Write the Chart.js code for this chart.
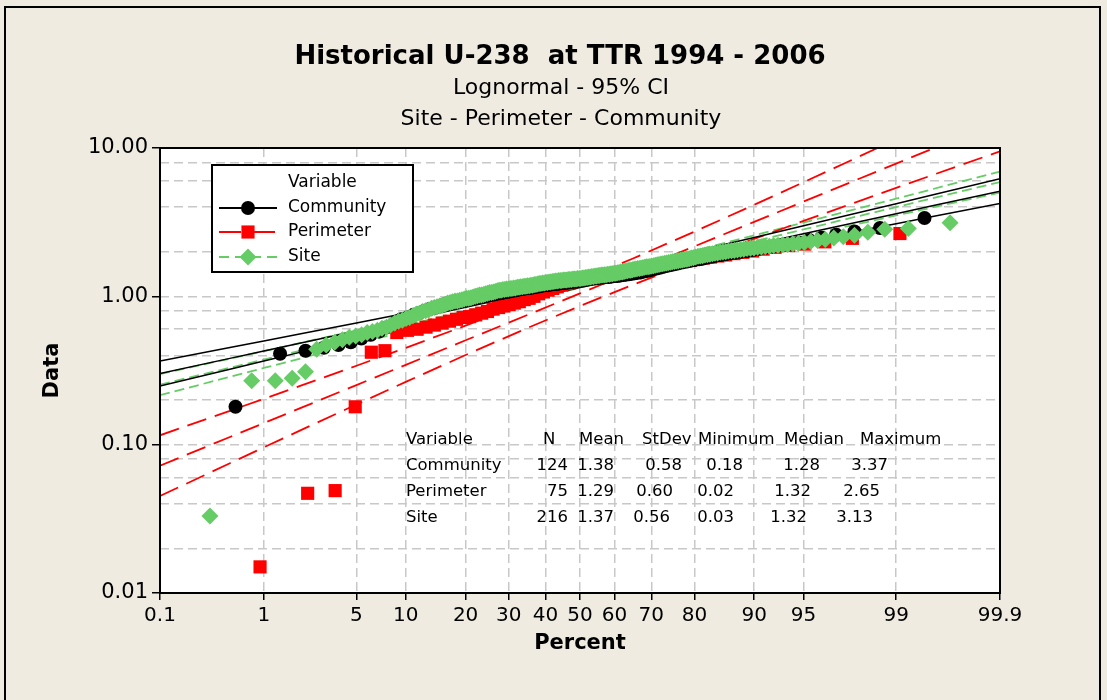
<!DOCTYPE html>
<html>
<head>
<meta charset="utf-8">
<title>Historical U-238 at TTR 1994 - 2006</title>
<script src="https://cdn.jsdelivr.net/npm/chart.js@4.4.1/dist/chart.umd.min.js"></script>
<style>
  html, body { margin: 0; padding: 0; background: #EFEBE1; }
  #wrap { position: relative; width: 1107px; height: 700px; overflow: hidden; }
  #frame { position: absolute; left: 4px; top: 6px; width: 1097px; height: 720px; border: 2px solid #000; box-sizing: border-box; }
  #chart { position: absolute; left: 0; top: 0; }
</style>
</head>
<body>
<div id="wrap">
  <div id="frame"></div>
  <canvas id="chart" width="1107" height="700"></canvas>
</div>
<script>
const FONT = '"DejaVu Sans", Verdana, sans-serif';

// ---- data ----
const titleText = 'Historical U-238  at TTR 1994 - 2006';
const subtitleLines = ['Lognormal - 95% CI', 'Site - Perimeter - Community'];

const tickPercents = [0.1, 1, 5, 10, 20, 30, 40, 50, 60, 70, 80, 90, 95, 99, 99.9];
const yTickValues = [0.01, 0.02, 0.04, 0.06, 0.08, 0.1, 0.2, 0.4, 0.6, 0.8, 1, 2, 4, 6, 8, 10];
const yMajorTicks = [0.01, 0.1, 1, 10];

const communityValues = [
  0.18, 0.41, 0.43, 0.45,
  0.47, 0.49, 0.52, 0.55,
  0.58, 0.62, 0.66, 0.70,
  0.72, 0.75, 0.77, 0.80,
  0.82, 0.84, 0.86, 0.88, 0.90,
  0.91, 0.92, 0.93, 0.94, 0.95, 0.97, 0.98,
  0.99, 1.00, 1.01, 1.02, 1.03, 1.04, 1.05,
  1.06, 1.07, 1.08, 1.09, 1.10, 1.11, 1.12, 1.13, 1.14, 1.14, 1.15, 1.16, 1.17,
  1.18, 1.19, 1.19, 1.20, 1.21, 1.21, 1.22, 1.23, 1.23, 1.24, 1.25, 1.26, 1.26, 1.27, 1.29,
  1.30, 1.30, 1.31, 1.32, 1.32, 1.33, 1.34, 1.34, 1.35, 1.35, 1.36, 1.37, 1.37, 1.38,
  1.39, 1.40, 1.41, 1.42, 1.43, 1.44, 1.45, 1.47, 1.48, 1.50,
  1.52, 1.54, 1.56, 1.58, 1.60, 1.62, 1.64, 1.66, 1.68, 1.70, 1.72, 1.74, 1.76, 1.78,
  1.80, 1.83, 1.85, 1.88, 1.90, 1.92, 1.95, 1.97, 2.00, 2.02, 2.05,
  2.09, 2.13, 2.17, 2.21, 2.25, 2.30,
  2.40, 2.48, 2.60, 2.74, 2.89, 3.37
];

const perimeterValues = [
  0.015, 0.047, 0.049, 0.18, 0.42, 0.43, 0.57,
  0.59, 0.60, 0.62, 0.64, 0.66, 0.68,
  0.70, 0.72, 0.73, 0.75,
  0.77, 0.79, 0.82, 0.84,
  0.86, 0.88, 0.90, 0.92, 0.95, 0.97, 1.00, 1.04,
  1.07, 1.10, 1.13, 1.16, 1.19, 1.22, 1.25, 1.29, 1.32,
  1.33, 1.34, 1.36, 1.37, 1.39, 1.40, 1.42, 1.43, 1.45,
  1.47, 1.49, 1.51, 1.53, 1.56, 1.58,
  1.60, 1.63, 1.65, 1.68, 1.70, 1.73, 1.75, 1.78,
  1.81, 1.84, 1.87, 1.90, 1.94, 1.98, 2.02,
  2.08, 2.14, 2.20, 2.25, 2.33, 2.46, 2.65
];

const siteValues = [
  0.033, 0.27, 0.27, 0.28, 0.31,
  0.44, 0.47, 0.49, 0.51, 0.53,
  0.54, 0.55, 0.57, 0.58,
  0.59, 0.61, 0.62, 0.64, 0.66, 0.68,
  0.69, 0.71, 0.72, 0.74, 0.76, 0.77, 0.79,
  0.80, 0.81, 0.83, 0.84, 0.85, 0.86, 0.87, 0.88, 0.90, 0.91,
  0.92, 0.93, 0.93, 0.94, 0.95, 0.96, 0.97, 0.97, 0.98, 0.99, 1.00,
  1.01, 1.02, 1.02, 1.03, 1.04, 1.05, 1.06, 1.06, 1.07, 1.08, 1.09, 1.10,
  1.10, 1.11, 1.11, 1.12, 1.12, 1.13, 1.13, 1.14, 1.14, 1.15, 1.15, 1.16, 1.16, 1.17, 1.17, 1.18, 1.18, 1.19, 1.19, 1.20, 1.20, 1.21, 1.22,
  1.22, 1.23, 1.23, 1.24, 1.24, 1.25, 1.25, 1.26, 1.26, 1.27, 1.27, 1.28, 1.28, 1.28, 1.29, 1.29, 1.29, 1.30, 1.30, 1.30, 1.31, 1.31, 1.31, 1.32, 1.32, 1.32,
  1.33, 1.33, 1.34, 1.34, 1.35, 1.35, 1.36, 1.36, 1.37, 1.37, 1.38, 1.38, 1.39, 1.39, 1.40, 1.40, 1.41, 1.41, 1.42, 1.42, 1.43, 1.43, 1.44, 1.45,
  1.46, 1.46, 1.47, 1.48, 1.49, 1.50, 1.50, 1.51, 1.52, 1.53, 1.54, 1.54, 1.55, 1.56, 1.57, 1.58, 1.58, 1.59,
  1.60, 1.61, 1.62, 1.63, 1.64, 1.65, 1.66, 1.67, 1.68, 1.69, 1.70, 1.71, 1.72, 1.73, 1.74, 1.75, 1.76, 1.77, 1.78, 1.79, 1.81, 1.82, 1.84, 1.86,
  1.87, 1.88, 1.90, 1.91, 1.92, 1.94, 1.95, 1.96, 1.98, 1.99, 2.00, 2.02, 2.03, 2.04, 2.05, 2.07, 2.08, 2.10, 2.11,
  2.12, 2.14, 2.15, 2.17, 2.18, 2.20, 2.21, 2.23, 2.24, 2.26, 2.28,
  2.31, 2.34, 2.38, 2.42, 2.47,
  2.52, 2.58, 2.70, 2.83, 2.87, 3.13
];

// fitted lines and 95% confidence bands, read at these percents
const ciPercents = [0.1, 0.5, 1, 2, 5, 10, 20, 35, 50, 65, 80, 90, 95, 98, 99, 99.5, 99.9];

const communityFit   = [0.3017, 0.3818, 0.4280, 0.4851, 0.5848, 0.6908, 0.8449, 1.042, 1.243, 1.483, 1.828, 2.236, 2.641, 3.185, 3.608, 4.046, 5.121];
const communityUpper = [0.3662, 0.4514, 0.4998, 0.5590, 0.6617, 0.7700, 0.9280, 1.133, 1.347, 1.612, 2.008, 2.494, 2.989, 3.671, 4.214, 4.783, 6.216];
const communityLower = [0.2485, 0.3229, 0.3665, 0.4207, 0.5168, 0.6194, 0.7692, 0.958, 1.147, 1.364, 1.665, 2.005, 2.334, 2.764, 3.090, 3.422, 4.219];

const perimeterFit   = [0.07218, 0.1126, 0.1398, 0.1770, 0.2522, 0.3453, 0.5055, 0.7506, 1.047, 1.462, 2.172, 3.178, 4.352, 6.201, 7.849, 9.745, 15.21];
const perimeterUpper = [0.1156, 0.1692, 0.2039, 0.2500, 0.3405, 0.4498, 0.6348, 0.9196, 1.274, 1.792, 2.729, 4.141, 5.878, 8.759, 11.44, 14.64, 24.35];
const perimeterLower = [0.04507, 0.07495, 0.0959, 0.1253, 0.1867, 0.2651, 0.4022, 0.6126, 0.8611, 1.193, 1.729, 2.440, 3.222, 4.390, 5.383, 6.486, 9.495];

const siteFit   = [0.2541, 0.3299, 0.3747, 0.4303, 0.5300, 0.6375, 0.7973, 1.006, 1.224, 1.489, 1.878, 2.350, 2.827, 3.480, 3.998, 4.539, 5.897];
const siteUpper = [0.2990, 0.3800, 0.4270, 0.4852, 0.5882, 0.6986, 0.8627, 1.079, 1.310, 1.597, 2.033, 2.575, 3.137, 3.924, 4.555, 5.228, 6.942];
const siteLower = [0.2158, 0.2865, 0.3288, 0.3818, 0.4775, 0.5816, 0.7366, 0.9376, 1.144, 1.387, 1.736, 2.144, 2.546, 3.087, 3.508, 3.942, 5.009];

const statsHeader = ['Variable', 'N', 'Mean', 'StDev', 'Minimum', 'Median', 'Maximum'];
const statsRows = [
  ['Community', '124', '1.38', '0.58', '0.18', '1.28', '3.37'],
  ['Perimeter', '75', '1.29', '0.60', '0.02', '1.32', '2.65'],
  ['Site', '216', '1.37', '0.56', '0.03', '1.32', '3.13']
];

// ---- helpers ----
// inverse normal cdf (percent in, z out) for the probability axis
function probit(pct) {
  const p = pct / 100;
  const a = [-39.69683028665376, 220.9460984245205, -275.9285104469687, 138.3577518672690, -30.66479806614716, 2.506628277459239];
  const b = [-54.47609879822406, 161.5858368580409, -155.6989798598866, 66.80131188771972, -13.28068155288572];
  const c = [-0.007784894002430293, -0.3223964580411365, -2.400758277161838, -2.549732539343734, 4.374664141464968, 2.938163982698783];
  const d = [0.007784695709041462, 0.3224671290700398, 2.445134137142996, 3.754408661907416];
  const lo = 0.02425;
  let q, r;
  if (p < lo) {
    q = Math.sqrt(-2 * Math.log(p));
    return (((((c[0]*q+c[1])*q+c[2])*q+c[3])*q+c[4])*q+c[5]) / ((((d[0]*q+d[1])*q+d[2])*q+d[3])*q+1);
  }
  if (p <= 1 - lo) {
    q = p - 0.5; r = q * q;
    return (((((a[0]*r+a[1])*r+a[2])*r+a[3])*r+a[4])*r+a[5])*q / (((((b[0]*r+b[1])*r+b[2])*r+b[3])*r+b[4])*r+1);
  }
  q = Math.sqrt(-2 * Math.log(1 - p));
  return -(((((c[0]*q+c[1])*q+c[2])*q+c[3])*q+c[4])*q+c[5]) / ((((d[0]*q+d[1])*q+d[2])*q+d[3])*q+1);
}

// median-rank plotting positions
const toPoints = vals => vals.map((v, i) => ({ x: probit(100 * (i + 0.7) / (vals.length + 0.4)), y: v }));
const toCurve = vals => ciPercents.map((p, i) => ({ x: probit(p), y: vals[i] }));

const BLACK = '#000000', RED = '#FF0000', GREEN = '#66CC66';
const RED_DASH = [20, 9], GREEN_DASH = [10, 5];

function lineSet(vals, color, dash, width) {
  return {
    data: toCurve(vals), showLine: true, pointRadius: 0, borderColor: color,
    borderWidth: width, borderDash: dash, tension: 0, order: 10
  };
}

const datasets = [
  { label: 'Site', data: toPoints(siteValues), pointStyle: 'rectRot', pointRadius: 8.5,
    backgroundColor: GREEN, borderWidth: 0, order: 1 },
  { label: 'Community', data: toPoints(communityValues), pointStyle: 'circle', pointRadius: 7,
    backgroundColor: BLACK, borderWidth: 0, order: 2 },
  { label: 'Perimeter', data: toPoints(perimeterValues), pointStyle: 'rect', pointRadius: 9.3,
    backgroundColor: RED, borderWidth: 0, order: 3 },

  lineSet(communityFit, BLACK, [], 1.5),
  lineSet(communityUpper, BLACK, [], 1.5),
  lineSet(communityLower, BLACK, [], 1.5),
  lineSet(perimeterFit, RED, RED_DASH, 1.8),
  lineSet(perimeterUpper, RED, RED_DASH, 1.8),
  lineSet(perimeterLower, RED, RED_DASH, 1.8),
  lineSet(siteFit, GREEN, GREEN_DASH, 1.8),
  lineSet(siteUpper, GREEN, GREEN_DASH, 1.8),
  lineSet(siteLower, GREEN, GREEN_DASH, 1.8)
];

// titles, frame, legend box and the statistics table
const decor = {
  id: 'decor',
  beforeDraw(chart) {
    const { ctx, chartArea: a } = chart;
    ctx.save();
    ctx.fillStyle = '#FFFFFF';
    ctx.fillRect(a.left, a.top, a.right - a.left, a.bottom - a.top);
    ctx.restore();
  },
  afterDraw(chart) {
    const { ctx, chartArea: a } = chart;
    ctx.save();
    ctx.fillStyle = '#000';
    ctx.textBaseline = 'middle';

    ctx.textAlign = 'center';
    ctx.font = 'bold 26px ' + FONT;
    ctx.fillText(titleText, 560, 57);
    ctx.font = '22px ' + FONT;
    ctx.fillText(subtitleLines[0], 561, 88);
    ctx.fillText(subtitleLines[1], 561, 119);

    // stats table: header left aligned, values right aligned
    ctx.font = '16.5px ' + FONT;
    ctx.textAlign = 'left';
    const headX = [406, 543, 579, 642, 698, 784, 860];
    statsHeader.forEach((t, i) => ctx.fillText(t, headX[i], 440));
    const rowRight = [
      [0, 568, 614, 682, 743, 820, 888],
      [0, 568, 614, 673, 734, 811, 880],
      [0, 568, 614, 670, 734, 807, 873]
    ];
    statsRows.forEach((row, r) => row.forEach((t, i) => {
      const y = 466 + r * 26;
      if (i === 0) {
        ctx.textAlign = 'left';
        ctx.fillText(t, 406, y);
      } else {
        ctx.textAlign = 'right';
        ctx.fillText(t, rowRight[r][i], y);
      }
    }));

    // plot frame
    ctx.strokeStyle = '#000';
    ctx.lineWidth = 2;
    ctx.strokeRect(a.left, a.top, a.right - a.left, a.bottom - a.top);

    // legend
    ctx.textAlign = 'left';
    ctx.font = '17px ' + FONT;
    const L = { x: 212, y: 165, w: 201, h: 107 };
    ctx.fillStyle = '#FFF';
    ctx.fillRect(L.x, L.y, L.w, L.h);
    ctx.strokeRect(L.x, L.y, L.w, L.h);
    ctx.fillStyle = '#000';
    ctx.fillText('Variable', 288, 183);
    const entries = [
      { name: 'Community', color: BLACK, dash: [], style: 'circle', r: 7, y: 208 },
      { name: 'Perimeter', color: RED, dash: [22, 12], style: 'rect', r: 9.3, y: 232 },
      { name: 'Site', color: GREEN, dash: [10, 6], style: 'rectRot', r: 8.5, y: 257 }
    ];
    entries.forEach(e => {
      ctx.save();
      ctx.strokeStyle = e.color;
      ctx.lineWidth = 1.8;
      ctx.setLineDash(e.dash);
      ctx.beginPath();
      ctx.moveTo(219, e.y);
      ctx.lineTo(277, e.y);
      ctx.stroke();
      ctx.restore();
      ctx.fillStyle = e.color;
      Chart.helpers.drawPoint(ctx, { pointStyle: e.style, radius: e.r, rotation: 0, borderWidth: 0 }, 248, e.y);
      ctx.fillStyle = '#000';
      ctx.fillText(e.name, 288, e.y);
    });
    ctx.restore();
  }
};

const gridColor = '#C8C8C8';

new Chart(document.getElementById('chart'), {
  type: 'scatter',
  data: { datasets },
  options: {
    responsive: false,
    animation: false,
    events: [],
    layout: { padding: { top: 148, right: 107, bottom: 0, left: 0 } },
    plugins: {
      legend: { display: false },
      tooltip: { enabled: false },
      title: { display: false }
    },
    scales: {
      x: {
        type: 'linear',
        min: probit(0.1),
        max: probit(99.9),
        afterBuildTicks: axis => { axis.ticks = tickPercents.map(p => ({ value: probit(p) })); },
        afterFit: s => { s.height = 107; },
        ticks: {
          autoSkip: false, maxRotation: 0, color: '#000', padding: 4,
          font: { family: FONT, size: 20 },
          callback: (v, i) => String(tickPercents[i])
        },
        grid: {
          color: gridColor, lineWidth: 1.5, tickLength: 7,
          tickColor: '#000', tickWidth: 1.5, tickBorderDash: []
        },
        border: { display: false, dash: [9, 5] },
        title: {
          display: true, text: 'Percent', color: '#000',
          font: { family: FONT, size: 21, weight: 'bold', lineHeight: 1.2 },
          padding: { top: 0, bottom: 44 }
        }
      },
      y: {
        type: 'logarithmic',
        min: 0.01,
        max: 10,
        afterBuildTicks: axis => { axis.ticks = yTickValues.map(v => ({ value: v })); },
        afterFit: s => { s.width = 160; },
        ticks: {
          autoSkip: false, color: '#000', padding: 4,
          font: { family: FONT, size: 21 },
          callback: (v, i) => yMajorTicks.includes(yTickValues[i]) ? yTickValues[i].toFixed(2) : ''
        },
        grid: {
          color: gridColor, lineWidth: 1.5, tickLength: 8, tickWidth: 1.5, tickBorderDash: [],
          tickColor: ctx => (ctx.tick && yMajorTicks.includes(ctx.tick.value)) ? '#000' : 'rgba(0,0,0,0)'
        },
        border: { display: false, dash: [9, 5] },
        title: {
          display: true, text: 'Data', color: '#000',
          font: { family: FONT, size: 21, weight: 'bold', lineHeight: 1.2 },
          padding: { top: 40, bottom: 0 }
        }
      }
    }
  },
  plugins: [decor]
});
</script>
</body>
</html>
